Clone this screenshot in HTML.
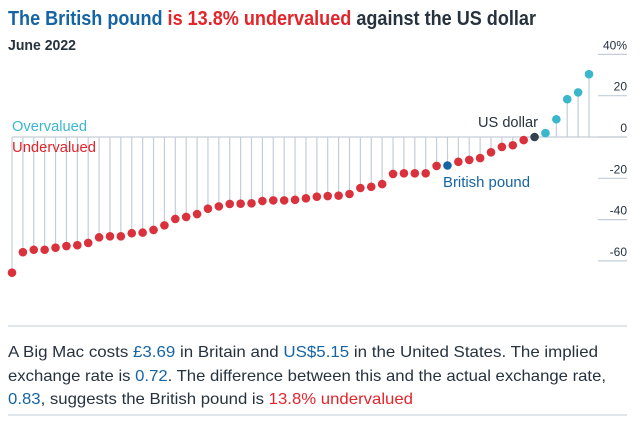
<!DOCTYPE html>
<html><head><meta charset="utf-8"><style>
html,body{margin:0;padding:0;background:#fff;}
svg{display:block;font-family:"Liberation Sans",sans-serif;}
</style></head><body>
<svg id="chart" width="640" height="421" viewBox="0 0 640 421">
<text x="8" y="25" font-size="20" font-weight="bold" textLength="528" lengthAdjust="spacingAndGlyphs"><tspan fill="#1564a4">The British pound </tspan><tspan fill="#e3242b">is 13.8% undervalued </tspan><tspan fill="#26323e">against the US dollar</tspan></text>
<text x="8" y="50" font-size="15" font-weight="bold" fill="#26323e" textLength="68" lengthAdjust="spacingAndGlyphs">June 2022</text>
<g id="axis"></g>
<g id="stems"></g>
<line x1="12" y1="137" x2="627" y2="137" stroke="#c3ced8" stroke-width="1.3"/>
<g id="dots"></g>
<text x="12" y="131" font-size="15" fill="#3ab7cc" textLength="75" lengthAdjust="spacingAndGlyphs">Overvalued</text>
<text x="12" y="152" font-size="15" fill="#e3242b" textLength="84" lengthAdjust="spacingAndGlyphs">Undervalued</text>
<text x="478" y="127" font-size="15" fill="#26323e" textLength="60" lengthAdjust="spacingAndGlyphs">US dollar</text>
<text x="443" y="187" font-size="15" fill="#1564a4" textLength="87" lengthAdjust="spacingAndGlyphs">British pound</text>
<line x1="8" y1="326" x2="627" y2="326" stroke="#d5dde4" stroke-width="1.5"/>
<g font-size="16" fill="#26323e">
<text x="8" y="357" textLength="590" lengthAdjust="spacingAndGlyphs">A Big Mac costs <tspan fill="#1564a4">£3.69</tspan> in Britain and <tspan fill="#1564a4">US$5.15</tspan> in the United States. The implied</text>
<text x="8" y="381" textLength="598" lengthAdjust="spacingAndGlyphs">exchange rate is <tspan fill="#1564a4">0.72</tspan>. The difference between this and the actual exchange rate,</text>
<text x="8" y="404" textLength="405" lengthAdjust="spacingAndGlyphs"><tspan fill="#1564a4">0.83</tspan>, suggests the British pound is <tspan fill="#e3242b">13.8% undervalued</tspan></text>
</g>
<line x1="8" y1="415" x2="627" y2="415" stroke="#d5dde4" stroke-width="1.5"/>
</svg>
<script>
const values = [-65.7,-55.8,-54.6,-54.6,-53.6,-52.8,-52.4,-51.3,-48.6,-48.1,-48.1,-46.6,-46.3,-45,-42.8,-39.7,-38.7,-37.3,-34.7,-33.6,-32.4,-32.3,-32.1,-31,-30.7,-30.7,-30.4,-29.7,-28.9,-28.6,-28.4,-27.6,-24.7,-24.1,-22.8,-17.9,-17.6,-17.6,-17.6,-14.0,-13.8,-12.0,-11.1,-10.2,-7.4,-4.8,-4.0,-1.5,0,1.9,8.6,18.3,21.6,30.4];
const highlightGBP = 40;
const highlightUSD = 48;
const ticks = [40,20,0,-20,-40,-60];
const tickLabels = ["40%","20","0","-20","-40","-60"];
const NS="http://www.w3.org/2000/svg";
const y = v => 137 - v*2.065;
const x = i => 12 + i*(589-12)/(values.length-1);
const axis=document.getElementById('axis'), stems=document.getElementById('stems'), dots=document.getElementById('dots');
ticks.forEach((t,i)=>{
  const l=document.createElementNS(NS,'line');
  l.setAttribute('x1',598);l.setAttribute('x2',627);l.setAttribute('y1',y(t));l.setAttribute('y2',y(t));
  l.setAttribute('stroke','#c3ced8');l.setAttribute('stroke-width','1.2');
  
  
  axis.appendChild(l);
  const tx=document.createElementNS(NS,'text');
  tx.setAttribute('x',627);tx.setAttribute('y',y(t)-5);tx.setAttribute('text-anchor','end');
  tx.setAttribute('font-size','12');tx.setAttribute('fill','#26323e');
  tx.textContent=tickLabels[i];
  
  
  axis.appendChild(tx);
});
values.forEach((v,i)=>{
  const l=document.createElementNS(NS,'line');
  l.setAttribute('x1',x(i));l.setAttribute('x2',x(i));l.setAttribute('y1',137);l.setAttribute('y2',y(v));
  l.setAttribute('stroke','#c3ced8');l.setAttribute('stroke-width','1.2');
  
  
  stems.appendChild(l);
  const c=document.createElementNS(NS,'circle');
  c.setAttribute('cx',x(i));c.setAttribute('cy',y(v));c.setAttribute('r',4.3);
  let col = v>0 ? '#3ab7cc' : '#d9323c';
  if(i===highlightGBP) col='#1564a4';
  if(i===highlightUSD) col='#34424e';
  c.setAttribute('fill',col);
  
  
  dots.appendChild(c);
});
</script>
</body></html>
